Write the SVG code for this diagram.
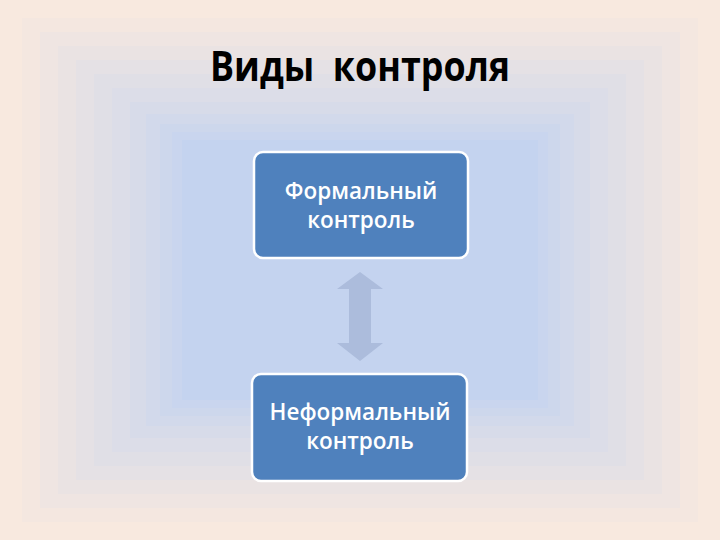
<svg xmlns="http://www.w3.org/2000/svg" width="720" height="540" viewBox="0 0 720 540">
<defs>
<style>
.box{fill:#4f81bd;stroke:#ffffff;stroke-width:2.5}
.lbl{font-family:"Open Sans","Liberation Sans",sans-serif;font-size:22.5px;fill:#ffffff;text-anchor:middle;font-weight:600}
.title{font-family:"Open Sans","Liberation Sans",sans-serif;font-size:41px;font-weight:700;fill:#000000}
</style>
</defs>
<g id="background">
<rect x="0" y="0" width="720" height="540" fill="#f8e9df"/>
<rect x="22" y="18" width="676" height="504" fill="#f4e7e0"/>
<rect x="40" y="32" width="640" height="476" fill="#efe5e2"/>
<rect x="58" y="46" width="604" height="448" fill="#eae3e3"/>
<rect x="76" y="60" width="568" height="420" fill="#e5e1e5"/>
<rect x="94" y="74" width="532" height="392" fill="#e0dfe6"/>
<rect x="112" y="88" width="496" height="364" fill="#dcdde8"/>
<rect x="130" y="102" width="460" height="336" fill="#d7dbe9"/>
<rect x="146" y="114" width="428" height="312" fill="#d2d9eb"/>
<rect x="160" y="124" width="400" height="292" fill="#cdd7ec"/>
<rect x="172" y="132" width="376" height="276" fill="#c9d5ee"/>
<rect x="182" y="140" width="356" height="260" fill="#c4d3ef"/>
</g>
<text class="title" x="210" y="81" xml:space="preserve" textLength="300" lengthAdjust="spacingAndGlyphs">Виды  контроля</text>
<g id="connectors">
<polygon points="360,272 383,289 371,289 371,343 383,343 360,361 337,343 349,343 349,289 337,289" fill="#acbcdc"/>
</g>
<g id="formal">
<rect class="box" x="254" y="152" width="214" height="106" rx="9"/>
<text class="lbl" x="361" y="199">Формальный</text>
<text class="lbl" x="361" y="228">контроль</text>
</g>
<g id="informal">
<rect class="box" x="252" y="374" width="215" height="107" rx="9"/>
<text class="lbl" x="360" y="420">Неформальный</text>
<text class="lbl" x="360" y="449">контроль</text>
</g>
</svg>
